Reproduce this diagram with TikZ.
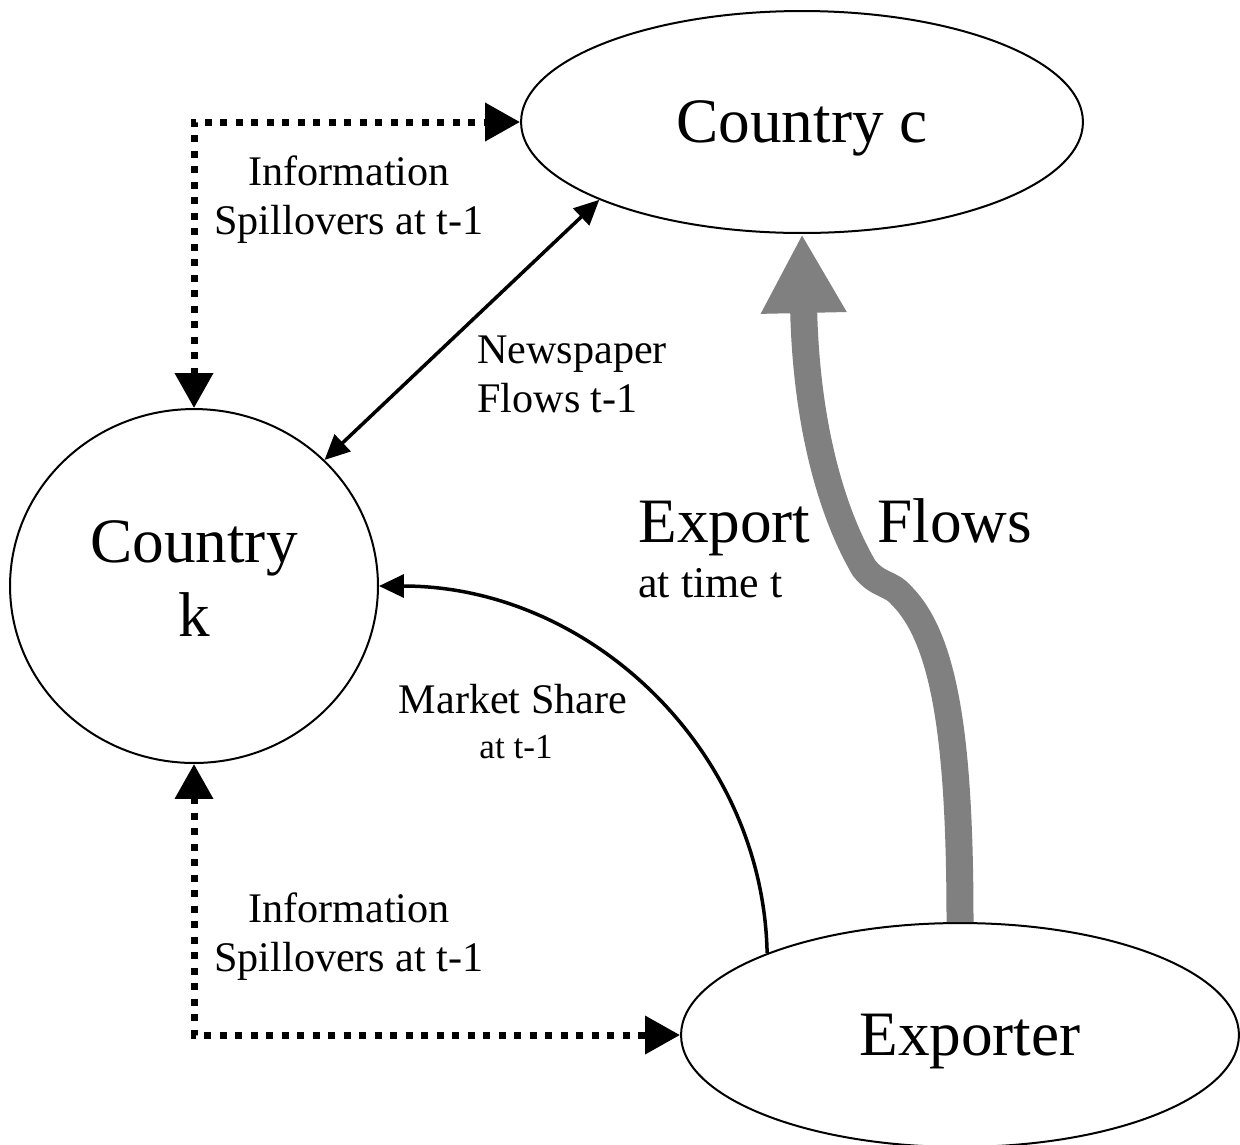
\documentclass[tikz,border=0pt]{standalone}
\usepackage{fontspec}
\setmainfont{Liberation Serif}
\usetikzlibrary{arrows.meta,shapes.geometric}

\begin{document}
\begin{tikzpicture}[x=0.02cm,y=-0.02cm,
    region/.style={draw,ellipse,line width=0.04cm,inner sep=0pt,align=center,text depth=0pt,font=\fontsize{36}{42}\selectfont},
    lbl/.style={inner sep=0pt,align=center,font=\fontsize{24}{28}\selectfont},
    spill/.style={line width=0.14cm,dash pattern=on 0.14cm off 0.17cm,
        {Triangle[length=0.7cm,width=0.74cm]}-{Triangle[length=0.7cm,width=0.74cm]}},
    flow/.style={line width=0.07cm,-{Triangle[length=0.5cm,width=0.46cm]}},
    exportflow/.style={draw=gray,line width=0.54cm,-{Triangle[length=1.58cm,width=1.6cm]}}]
  \useasboundingbox (0,0) rectangle (1240,1144);

  \node[region,minimum width=11.24cm,minimum height=4.44cm] (cc) at (802,122) {Country c};
  \node[region,minimum width=7.36cm,minimum height=7.08cm,text depth=0.3cm] (ck) at (194,586) {Country\\k};
  \node[region,minimum width=11.16cm,minimum height=4.48cm] (ex) at (960,1035) {\hspace*{0.4cm}Exporter};

  \draw[spill] (ck.north) |- (cc.west);
  \draw[spill] (ck.south) |- (ex.west);
  \draw[flow,{Triangle[length=0.5cm,width=0.46cm]}-{Triangle[length=0.5cm,width=0.46cm]}] (ck.44) -- (cc.201);
  \draw[flow] (ex.157) .. controls (763,750) and (590,586) .. (ck.east);
  \draw[exportflow] (ex.north) .. controls (960,740) and (945,640) .. (902,596)
      .. controls (890,582) and (878,586) .. (864,568)
      .. controls (830,510) and (806,420) .. (cc.south);

  \node[lbl] (spilltop) at (349,200) {Information\\Spillovers at t-1};
  \node[lbl] (spillbot) at (349,937) {Information\\Spillovers at t-1};
  \node[lbl,align=left,anchor=west] (newslbl) at (477,374) {Newspaper\\Flows t-1};
  \node[lbl,anchor=base] (sharelbl) at (513,713) {Market Share};
  \node[lbl,anchor=base,font=\fontsize{20}{24}\selectfont] (sharetime) at (516,758) {at t-1};
  \node[lbl,anchor=base west,font=\fontsize{36}{42}\selectfont] (exportlbl) at (638,542) {Export};
  \node[lbl,anchor=base west,font=\fontsize{36}{42}\selectfont] (flowslbl) at (877,542) {Flows};
  \node[lbl,anchor=base west,font=\fontsize{25}{30}\selectfont] (timelbl) at (638,597) {at time t};
\end{tikzpicture}
\end{document}
